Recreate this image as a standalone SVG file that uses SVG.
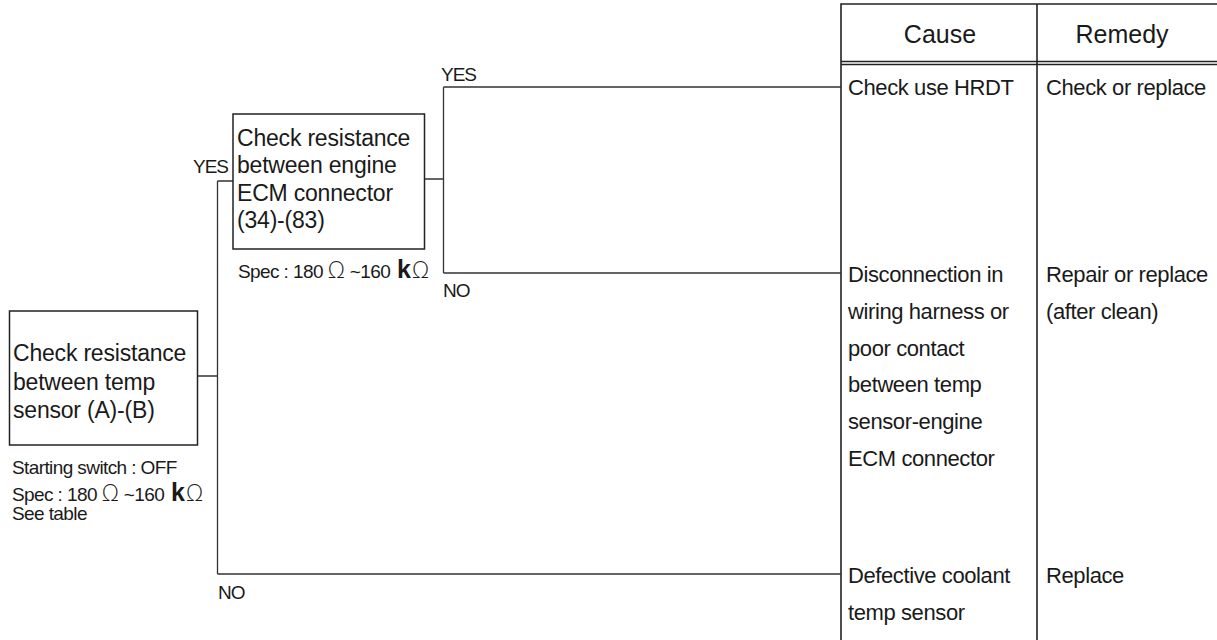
<svg xmlns="http://www.w3.org/2000/svg" width="1217" height="640" viewBox="0 0 1217 640">
<style>
text{font-family:"Liberation Sans",Arial,sans-serif;fill:#1a1a1a}
.box{fill:#fff;stroke:#222;stroke-width:1.5}
.ln{stroke:#333;stroke-width:1.3;fill:none}
.tb{stroke:#222;stroke-width:1.6;fill:none}
.bt{font-size:23px;letter-spacing:-0.2px}
.tt{font-size:22px;letter-spacing:-0.4px}
.hd{font-size:25px;text-anchor:middle}
.lb{font-size:19px;letter-spacing:-1px}
.sm{font-size:19px;letter-spacing:-0.6px}
.om{font-family:"DejaVu Sans",sans-serif;font-weight:200;font-size:23px;letter-spacing:0}
.k{font-weight:bold;font-size:25px;letter-spacing:0}
</style>
<rect width="1217" height="640" fill="#fff"/>
<g id="table">
<path class="tb" d="M841,640V4H1217M1037,4V640M841,61.5H1217M841,64.5H1217"/>
<text class="hd" x="940" y="43">Cause</text>
<text class="hd" x="1122" y="43">Remedy</text>
</g>
<g id="connectors">
<path class="ln" d="M198,376H217.5M217.5,181V574M217.5,181H233M217.5,574H841M425,179H443.5M443.5,87V273M443.5,87H841M443.5,273H841"/>
<text class="lb" x="193" y="173">YES</text>
<text class="lb" x="441" y="81">YES</text>
<text class="lb" x="443" y="297">NO</text>
<text class="lb" x="218" y="599">NO</text>
</g>
<g id="node-temp-sensor">
<rect class="box" x="9.5" y="311" width="188" height="134"/>
<text class="bt" x="13" y="361">Check resistance</text>
<text class="bt" x="13" y="389.5">between temp</text>
<text class="bt" x="13" y="418">sensor (A)-(B)</text>
<text class="sm" x="12" y="474">Starting switch : OFF</text>
<text class="sm" x="12" y="501">Spec : 180 <tspan class="om">Ω</tspan> ~160 <tspan class="k" dx="2">k</tspan><tspan class="om" dx="1">Ω</tspan></text>
<text class="sm" x="12" y="520">See table</text>
</g>
<g id="node-ecm">
<rect class="box" x="233" y="114" width="191.5" height="135"/>
<text class="bt" x="237" y="145.5">Check resistance</text>
<text class="bt" x="237" y="173">between engine</text>
<text class="bt" x="237" y="200.5">ECM connector</text>
<text class="bt" x="237" y="227.5">(34)-(83)</text>
<text class="sm" x="238" y="277.5">Spec : 180 <tspan class="om">Ω</tspan> ~160 <tspan class="k" dx="2">k</tspan><tspan class="om" dx="1">Ω</tspan></text>
</g>
<g id="row-hrdt">
<text class="tt" x="848" y="95">Check use HRDT</text>
<text class="tt" x="1046" y="95">Check or replace</text>
</g>
<g id="row-harness">
<text class="tt" x="848" y="282"><tspan x="848">Disconnection in</tspan><tspan x="848" dy="36.8">wiring harness or</tspan><tspan x="848" dy="36.8">poor contact</tspan><tspan x="848" dy="36.8">between temp</tspan><tspan x="848" dy="36.8">sensor-engine</tspan><tspan x="848" dy="36.8">ECM connector</tspan></text>
<text class="tt" x="1046" y="282"><tspan x="1046">Repair or replace</tspan><tspan x="1046" dy="36.8">(after clean)</tspan></text>
</g>
<g id="row-sensor">
<text class="tt" x="848" y="583"><tspan x="848">Defective coolant</tspan><tspan x="848" dy="36.8">temp sensor</tspan></text>
<text class="tt" x="1046" y="583">Replace</text>
</g>
</svg>
